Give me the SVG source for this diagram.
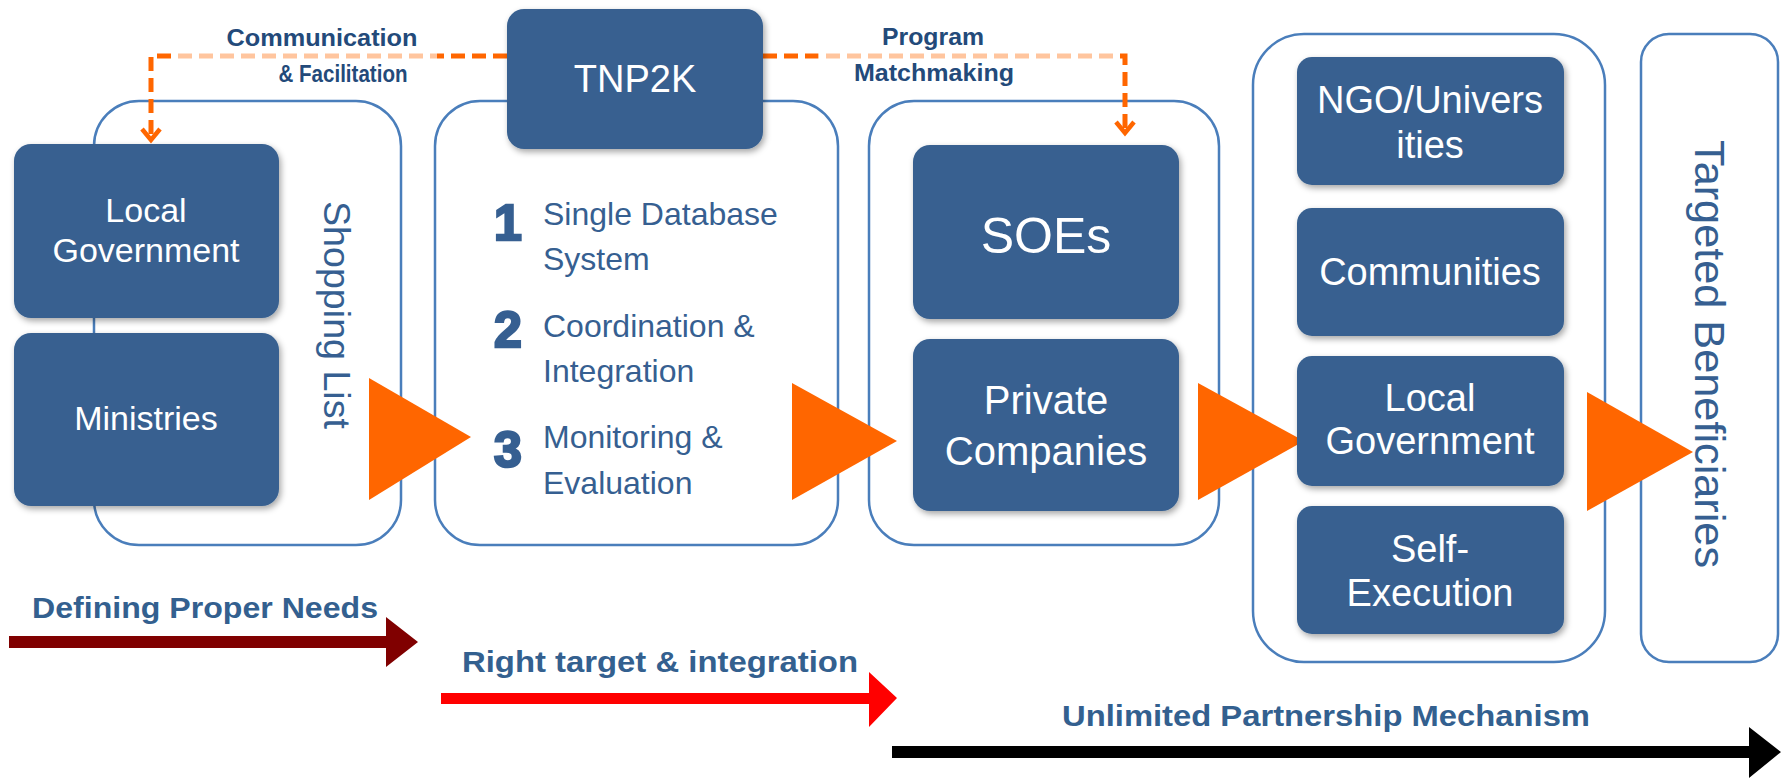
<svg xmlns="http://www.w3.org/2000/svg" width="1781" height="778" viewBox="0 0 1781 778">
<style>
.cont{fill:#fff;stroke:#4A7EBB;stroke-width:2.5}
.node{fill:#386190;filter:url(#sh)}
.nt{fill:#fff;font-family:"Liberation Sans",Arial,sans-serif;text-anchor:middle}
.it{fill:#365F91;font-family:"Liberation Sans",Arial,sans-serif;font-size:32px}
.num{fill:#365F91;stroke:#365F91;stroke-width:2.5;font-family:"Liberation Sans",Arial,sans-serif;font-size:50px;font-weight:bold;text-anchor:middle}
.vt{fill:#365F91;font-family:"Liberation Sans",Arial,sans-serif;text-anchor:middle}
.lab{fill:#234A7A;font-family:"Liberation Sans",Arial,sans-serif;font-size:24px;font-weight:bold;text-anchor:middle}
.blab{fill:#33608F;font-family:"Liberation Sans",Arial,sans-serif;font-size:29px;font-weight:bold}
.tri{fill:#FF6600}
.dash{fill:none;stroke:#FF6600;stroke-width:5;stroke-dasharray:14 7}
</style>
<defs>
<filter id="sh" x="-10%" y="-10%" width="125%" height="130%">
<feDropShadow dx="2" dy="3" stdDeviation="3" flood-color="#000" flood-opacity="0.35"/>
</filter>
<marker id="chev" markerUnits="userSpaceOnUse" viewBox="-14 -12 18 24" refX="0" refY="0" markerWidth="18" markerHeight="24" orient="auto">
<path d="M-11,-9 L0,0 L-11,9" fill="none" stroke="#FF6600" stroke-width="4.5"/>
</marker>
</defs>

<g id="container-shopping"><rect class="cont" x="94" y="101" width="307" height="444" rx="45"/>
<text class="vt" font-size="36" textLength="228" lengthAdjust="spacingAndGlyphs" transform="translate(337,315) rotate(90)" dy="0.35em">Shopping List</text></g>
<g id="container-tnp2k"><rect class="cont" x="435" y="101" width="403" height="444" rx="45"/></g>
<g id="container-partners"><rect class="cont" x="869" y="101" width="350" height="444" rx="45"/></g>
<g id="container-exec"><rect class="cont" x="1253" y="34" width="352" height="628" rx="51"/></g>
<g id="container-benef"><rect class="cont" x="1641" y="34" width="137" height="628" rx="28"/></g>

<g id="connectors">
<path class="dash" d="M507,56 H151 V140" marker-end="url(#chev)"/>
<path class="dash" d="M763,56 H1125 V133" marker-end="url(#chev)"/>
<rect x="177" y="46" width="260" height="20" fill="#fff" opacity="0.62"/>
<rect x="818" y="46" width="295" height="20" fill="#fff" opacity="0.62"/>
<polygon class="tri" points="369,378 471,437 369,500"/>
<polygon class="tri" points="792,383 897,441 792,500"/>
<polygon class="tri" points="1198,383 1304,441 1198,500"/>
<polygon class="tri" points="1587,392 1693,452 1587,511"/>
<polygon fill="#800000" points="9,636 386,636 386,617 418,642 386,667 386,648 9,648"/>
<polygon fill="#FF0000" points="441,693 869,693 869,672 897,698 869,727 869,704 441,704"/>
<polygon fill="#000" points="892,746 1749,746 1749,727 1781,752 1749,778 1749,758 892,758"/>
</g>

<g id="label-comm"><text class="lab" x="322" y="46" textLength="191" lengthAdjust="spacingAndGlyphs">Communication</text><text class="lab" x="343" y="82" textLength="129" lengthAdjust="spacingAndGlyphs">&amp; Facilitation</text></g>
<g id="label-prog"><text class="lab" x="933" y="45" textLength="102" lengthAdjust="spacingAndGlyphs">Program</text><text class="lab" x="934" y="81" textLength="160" lengthAdjust="spacingAndGlyphs">Matchmaking</text></g>

<g id="node-local-gov"><rect class="node" x="14" y="144" width="265" height="174" rx="17"/>
<text class="nt" font-size="34" x="146" y="222">Local</text><text class="nt" font-size="34" x="146" y="262">Government</text></g>
<g id="node-ministries"><rect class="node" x="14" y="333" width="265" height="173" rx="17"/>
<text class="nt" font-size="34" x="146" y="430">Ministries</text></g>

<g id="node-tnp2k"><rect class="node" x="507" y="9" width="256" height="140" rx="17"/>
<text class="nt" font-size="38" x="635" y="92">TNP2K</text></g>

<g id="tnp2k-items">
<text class="num" x="508" y="240">1</text>
<text class="it" x="543" y="225">Single Database</text><text class="it" x="543" y="270">System</text>
<text class="num" x="508" y="347">2</text>
<text class="it" x="543" y="337">Coordination &amp;</text><text class="it" x="543" y="382">Integration</text>
<text class="num" x="508" y="467">3</text>
<text class="it" x="543" y="448">Monitoring &amp;</text><text class="it" x="543" y="494">Evaluation</text>
</g>

<g id="node-soes"><rect class="node" x="913" y="145" width="266" height="174" rx="17"/>
<text class="nt" font-size="50" x="1046" y="253">SOEs</text></g>
<g id="node-private"><rect class="node" x="913" y="339" width="266" height="172" rx="17"/>
<text class="nt" font-size="40" x="1046" y="414">Private</text><text class="nt" font-size="40" x="1046" y="465">Companies</text></g>

<g id="node-ngo"><rect class="node" x="1297" y="57" width="267" height="128" rx="15"/>
<text class="nt" font-size="38" x="1430" y="113">NGO/Univers</text><text class="nt" font-size="38" x="1430" y="158">ities</text></g>
<g id="node-communities"><rect class="node" x="1297" y="208" width="267" height="128" rx="15"/>
<text class="nt" font-size="38" x="1430" y="285">Communities</text></g>
<g id="node-local-gov-2"><rect class="node" x="1297" y="356" width="267" height="130" rx="15"/>
<text class="nt" font-size="38" x="1430" y="411">Local</text><text class="nt" font-size="38" x="1430" y="454">Government</text></g>
<g id="node-self"><rect class="node" x="1297" y="506" width="267" height="128" rx="15"/>
<text class="nt" font-size="38" x="1430" y="562">Self-</text><text class="nt" font-size="38" x="1430" y="606">Execution</text></g>

<g id="benef-label"><text class="vt" font-size="42" textLength="428" lengthAdjust="spacingAndGlyphs" transform="translate(1710,354) rotate(90)" dy="0.35em">Targeted Beneficiaries</text></g>

<g id="bottom-labels">
<text class="blab" x="32" y="618" textLength="346" lengthAdjust="spacingAndGlyphs">Defining Proper Needs</text>
<text class="blab" x="462" y="672" textLength="396" lengthAdjust="spacingAndGlyphs">Right target &amp; integration</text>
<text class="blab" x="1062" y="726" textLength="528" lengthAdjust="spacingAndGlyphs">Unlimited Partnership Mechanism</text>
</g>
</svg>
